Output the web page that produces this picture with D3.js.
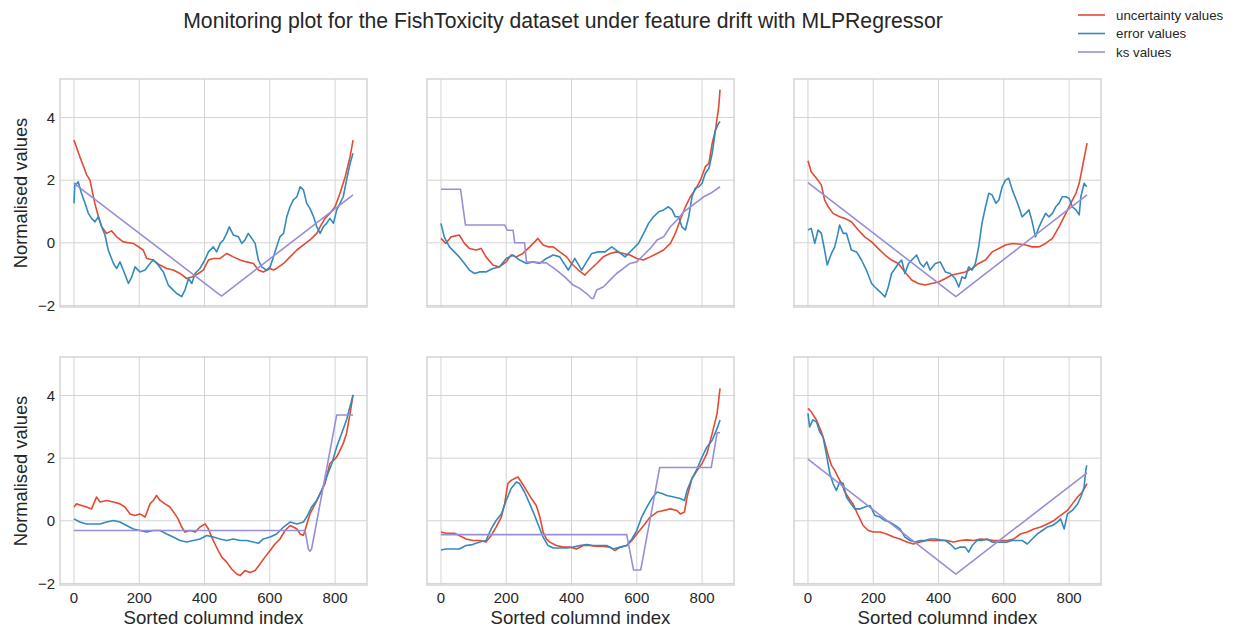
<!DOCTYPE html>
<html>
<head>
<meta charset="utf-8">
<script src="https://cdn.jsdelivr.net/npm/d3@7"></script>
<style>
body { margin: 0; background: #fff; }
text { font-family: "Liberation Sans", Arial, sans-serif; fill: #262626; }
</style>
</head>
<body>
<div id="chart"></div>
<script>
const titleText = "Monitoring plot for the FishToxicity dataset under feature drift with MLPRegressor";
const seriesNames = ["uncertainty values", "error values", "ks values"];
const seriesColors = ["#E24A33", "#348ABD", "#988ED5"];
const xTicks = [0, 200, 400, 600, 800];
const yTicks = [-2, 0, 2, 4];

// [sorted index, normalised value]
const unc1 = [[0,3.28],[18,2.75],[39,2.17],[49,2.0],[64,1.26],[75,0.83],[85,0.51],[100,0.3],[115,0.38],[131,0.19],[151,0.03],[182,-0.02],[212,-0.23],[223,-0.5],[243,-0.55],[263,-0.71],[284,-0.82],[304,-0.87],[325,-0.98],[345,-1.14],[361,-1.09],[381,-0.98],[396,-0.87],[412,-0.55],[427,-0.5],[448,-0.5],[468,-0.34],[488,-0.45],[509,-0.55],[529,-0.61],[550,-0.66],[565,-0.87],[580,-0.93],[601,-0.82],[611,-0.87],[621,-0.82],[642,-0.66],[662,-0.45],[683,-0.23],[703,-0.07],[723,0.09],[744,0.3],[754,0.51],[769,0.78],[784,0.94],[800,1.15],[815,1.58],[831,2.11],[846,2.75],[855,3.28]];
const err1 = [[0,1.26],[3,1.9],[6,1.85],[13,1.95],[23,1.58],[34,1.26],[44,0.94],[54,0.78],[64,0.67],[75,0.83],[85,0.51],[95,0.25],[105,-0.23],[121,-0.66],[131,-0.82],[141,-0.61],[151,-0.87],[167,-1.3],[177,-1.09],[187,-0.77],[202,-0.93],[218,-0.87],[233,-0.66],[243,-0.55],[258,-0.71],[274,-0.93],[289,-1.35],[304,-1.51],[315,-1.62],[330,-1.72],[340,-1.51],[351,-1.14],[361,-1.3],[371,-0.98],[386,-0.82],[401,-0.55],[412,-0.29],[427,-0.13],[437,-0.29],[448,-0.02],[458,0.09],[468,0.3],[476,0.51],[488,0.25],[504,0.19],[514,-0.02],[524,0.09],[534,0.3],[545,0.14],[555,-0.02],[565,-0.55],[575,-0.77],[590,-0.87],[601,-0.77],[611,-0.45],[621,-0.13],[631,0.19],[642,0.3],[652,0.83],[662,1.15],[672,1.37],[683,1.47],[693,1.79],[703,1.69],[713,1.26],[723,1.1],[734,0.83],[744,0.51],[754,0.3],[764,0.51],[774,0.62],[784,0.78],[795,0.62],[805,1.05],[815,1.26],[825,1.47],[835,2.0],[846,2.54],[855,2.86]];
const ks1 = [[0,1.9],[452,-1.7],[855,1.53]];

const unc2 = [[0,0.14],[15,-0.02],[31,0.19],[56,0.25],[72,-0.02],[87,-0.18],[108,-0.23],[123,-0.18],[138,-0.45],[159,-0.71],[179,-0.77],[200,-0.61],[215,-0.39],[231,-0.45],[251,-0.34],[272,-0.13],[287,0.03],[297,0.14],[313,-0.07],[328,-0.13],[344,-0.13],[364,-0.29],[385,-0.45],[400,-0.66],[421,-0.87],[441,-1.03],[456,-0.87],[477,-0.66],[497,-0.45],[518,-0.34],[538,-0.29],[559,-0.34],[579,-0.39],[600,-0.5],[620,-0.55],[641,-0.45],[662,-0.34],[682,-0.23],[703,-0.02],[718,0.3],[733,0.73],[749,1.15],[764,1.47],[779,1.69],[795,2.0],[810,2.43],[821,2.54],[831,3.18],[841,3.6],[851,4.35],[855,4.89]];
const err2 = [[0,0.62],[10,0.19],[26,-0.13],[41,-0.29],[56,-0.45],[72,-0.66],[87,-0.87],[103,-0.98],[118,-0.93],[138,-0.93],[159,-0.82],[179,-0.77],[200,-0.5],[221,-0.39],[241,-0.55],[262,-0.66],[282,-0.61],[303,-0.66],[323,-0.5],[344,-0.39],[364,-0.45],[390,-0.87],[410,-0.5],[431,-0.87],[446,-0.61],[462,-0.34],[482,-0.29],[503,-0.29],[523,-0.13],[544,-0.29],[564,-0.45],[585,-0.23],[605,-0.02],[621,0.3],[636,0.62],[651,0.83],[667,0.99],[682,1.05],[697,1.15],[708,1.05],[718,0.83],[728,0.83],[738,0.51],[749,0.41],[759,0.83],[769,1.47],[779,1.74],[790,1.79],[800,1.9],[810,2.22],[821,2.38],[831,2.86],[841,3.6],[851,3.82],[855,3.87]];
const ks2 = [[0,1.71],[60,1.71],[75,0.57],[195,0.57],[203,0.4],[221,0.4],[226,0.0],[256,0.0],[262,-0.61],[323,-0.64],[354,-0.87],[379,-1.09],[405,-1.35],[426,-1.46],[446,-1.62],[462,-1.78],[467,-1.78],[477,-1.51],[497,-1.41],[518,-1.19],[538,-0.98],[559,-0.82],[579,-0.66],[600,-0.61],[621,-0.39],[641,-0.18],[662,0.09],[682,0.19],[703,0.51],[723,0.73],[744,0.99],[764,1.15],[785,1.31],[805,1.47],[826,1.58],[855,1.79]];

const unc3 = [[0,2.62],[10,2.27],[26,2.06],[41,1.85],[51,1.37],[62,1.15],[77,0.94],[97,0.83],[113,0.78],[133,0.67],[154,0.41],[174,0.19],[195,0.03],[215,-0.18],[236,-0.39],[256,-0.55],[277,-0.66],[297,-0.93],[318,-1.19],[338,-1.3],[359,-1.35],[379,-1.3],[400,-1.25],[421,-1.14],[441,-1.03],[462,-0.98],[482,-0.93],[503,-0.82],[523,-0.66],[544,-0.55],[564,-0.29],[585,-0.18],[605,-0.07],[626,-0.02],[646,-0.04],[667,-0.07],[687,-0.13],[708,-0.13],[728,-0.02],[749,0.14],[769,0.51],[790,0.94],[805,1.26],[821,1.58],[831,1.9],[841,2.43],[855,3.18]];
const err3 = [[0,0.41],[10,0.46],[21,-0.02],[31,0.41],[41,0.3],[51,-0.23],[59,-0.71],[72,-0.34],[82,-0.13],[92,0.3],[97,0.57],[108,0.3],[118,0.3],[133,-0.23],[149,-0.29],[164,-0.55],[179,-0.87],[195,-1.3],[205,-1.41],[215,-1.51],[226,-1.62],[236,-1.73],[246,-1.41],[256,-0.98],[267,-0.82],[277,-0.66],[287,-0.55],[297,-0.98],[308,-0.66],[318,-0.55],[333,-0.39],[344,-0.66],[354,-0.77],[364,-0.61],[374,-0.87],[390,-0.66],[405,-0.61],[421,-0.93],[436,-0.98],[451,-1.14],[462,-1.41],[472,-1.09],[482,-1.14],[492,-0.77],[503,-0.87],[513,-0.66],[523,-0.13],[533,0.62],[544,1.15],[554,1.58],[564,1.53],[576,1.26],[585,1.37],[595,1.79],[605,2.0],[615,2.06],[626,1.69],[636,1.42],[646,1.15],[656,0.83],[667,0.94],[677,1.05],[687,0.67],[697,0.19],[708,0.51],[718,0.73],[728,0.94],[738,0.83],[749,0.94],[759,1.15],[769,1.26],[779,1.47],[790,1.47],[800,1.42],[810,1.15],[821,1.05],[831,0.89],[836,1.47],[846,1.9],[854,1.79]];
const ks3 = [[0,1.92],[453,-1.72],[855,1.53]];

const unc4 = [[0,0.44],[8,0.54],[23,0.49],[39,0.44],[54,0.38],[69,0.76],[80,0.6],[100,0.65],[121,0.6],[141,0.54],[156,0.44],[172,0.22],[187,0.17],[202,0.22],[218,0.12],[233,0.54],[243,0.65],[253,0.81],[264,0.65],[279,0.54],[294,0.44],[309,0.22],[319,0.06],[330,-0.2],[340,-0.36],[356,-0.31],[371,-0.36],[386,-0.2],[402,-0.1],[412,-0.26],[422,-0.52],[432,-0.74],[442,-0.95],[453,-1.16],[468,-1.32],[483,-1.54],[499,-1.7],[509,-1.75],[524,-1.59],[539,-1.65],[555,-1.59],[570,-1.38],[585,-1.16],[601,-0.95],[616,-0.74],[631,-0.58],[647,-0.31],[662,-0.15],[672,-0.2],[683,-0.26],[693,-0.42],[703,-0.47],[711,-0.2],[723,0.22],[739,0.54],[754,0.87],[769,1.19],[784,1.83],[795,1.93],[805,2.04],[815,2.25],[825,2.47],[835,2.79],[846,3.43],[855,4.02]];
const err4 = [[0,0.06],[18,-0.04],[39,-0.1],[59,-0.1],[80,-0.1],[100,-0.04],[121,0.01],[141,-0.04],[161,-0.15],[182,-0.26],[202,-0.31],[223,-0.36],[243,-0.31],[264,-0.31],[284,-0.42],[304,-0.52],[325,-0.63],[345,-0.68],[366,-0.63],[386,-0.58],[407,-0.47],[427,-0.52],[447,-0.58],[468,-0.63],[488,-0.58],[509,-0.63],[529,-0.63],[550,-0.68],[565,-0.72],[580,-0.58],[601,-0.52],[621,-0.42],[642,-0.2],[662,-0.04],[683,-0.1],[703,-0.04],[713,0.12],[728,0.44],[744,0.65],[759,0.97],[774,1.4],[790,1.83],[805,2.36],[820,2.79],[835,3.22],[855,4.02]];
const ks4 = [[0,-0.31],[708,-0.31],[718,-0.9],[723,-0.97],[728,-0.9],[805,3.38],[855,3.38]];

const unc5 = [[0,-0.36],[15,-0.4],[41,-0.4],[56,-0.47],[77,-0.58],[97,-0.63],[118,-0.63],[138,-0.68],[154,-0.47],[169,-0.2],[185,0.12],[195,0.54],[205,1.19],[215,1.29],[226,1.35],[236,1.4],[246,1.24],[262,0.97],[277,0.71],[292,0.49],[303,0.12],[313,-0.36],[323,-0.58],[333,-0.68],[354,-0.79],[374,-0.84],[395,-0.84],[415,-0.9],[436,-0.79],[456,-0.79],[477,-0.82],[497,-0.82],[518,-0.84],[533,-0.95],[549,-0.84],[569,-0.79],[585,-0.63],[600,-0.42],[621,-0.15],[641,0.12],[662,0.28],[682,0.33],[703,0.38],[723,0.33],[733,0.22],[746,0.28],[754,0.76],[769,1.35],[785,1.61],[800,1.83],[815,2.15],[831,2.79],[846,3.43],[855,4.23]];
const err5 = [[0,-0.93],[15,-0.9],[36,-0.9],[56,-0.9],[77,-0.79],[97,-0.76],[118,-0.68],[138,-0.63],[154,-0.26],[169,0.01],[185,0.22],[200,0.65],[215,1.03],[231,1.24],[241,1.19],[256,0.92],[272,0.54],[287,0.17],[303,-0.26],[313,-0.52],[328,-0.79],[344,-0.87],[364,-0.87],[385,-0.87],[405,-0.84],[426,-0.79],[446,-0.76],[467,-0.79],[487,-0.79],[508,-0.79],[528,-0.9],[549,-0.84],[569,-0.79],[585,-0.58],[600,-0.31],[615,0.12],[631,0.44],[646,0.71],[662,0.92],[677,0.87],[692,0.81],[713,0.76],[733,0.71],[746,0.65],[754,0.97],[769,1.35],[785,1.67],[800,2.04],[815,2.36],[831,2.57],[846,2.95],[855,3.22]];
const ks5 = [[0,-0.44],[569,-0.44],[590,-1.57],[612,-1.57],[670,1.7],[828,1.7],[846,2.81],[855,2.81]];

const unc6 = [[0,3.59],[10,3.48],[26,3.22],[41,2.84],[51,2.52],[62,2.09],[72,1.77],[82,1.61],[92,1.4],[103,1.19],[113,0.92],[123,0.76],[138,0.54],[154,0.17],[169,-0.15],[185,-0.31],[200,-0.36],[221,-0.36],[241,-0.42],[262,-0.52],[282,-0.58],[303,-0.68],[323,-0.74],[344,-0.68],[364,-0.63],[385,-0.63],[405,-0.63],[426,-0.63],[446,-0.68],[467,-0.63],[487,-0.61],[508,-0.63],[528,-0.58],[549,-0.6],[569,-0.63],[590,-0.63],[610,-0.63],[631,-0.58],[651,-0.42],[672,-0.36],[692,-0.26],[713,-0.2],[733,-0.1],[754,0.01],[774,0.17],[795,0.33],[810,0.54],[826,0.76],[841,0.92],[855,1.19]];
const err6 = [[0,3.43],[5,3.0],[15,3.22],[26,3.16],[36,2.84],[46,2.68],[56,2.15],[67,1.51],[77,1.19],[87,0.97],[97,1.24],[108,1.19],[118,0.76],[128,0.6],[144,0.38],[159,0.38],[174,0.44],[190,0.49],[205,0.17],[221,0.12],[236,0.01],[251,-0.04],[267,-0.15],[282,-0.26],[297,-0.52],[313,-0.63],[328,-0.68],[344,-0.63],[359,-0.63],[374,-0.58],[390,-0.58],[405,-0.61],[421,-0.63],[436,-0.74],[451,-0.9],[467,-0.84],[482,-0.84],[492,-1.0],[503,-0.79],[518,-0.63],[533,-0.63],[549,-0.58],[564,-0.68],[579,-0.68],[595,-0.68],[610,-0.68],[626,-0.63],[641,-0.63],[656,-0.63],[672,-0.74],[687,-0.58],[703,-0.42],[718,-0.31],[733,-0.2],[749,-0.15],[764,-0.04],[774,0.06],[785,-0.26],[795,0.22],[810,0.33],[826,0.54],[836,0.76],[846,1.08],[851,1.61],[854,1.77]];
const ks6 = [[0,1.97],[453,-1.7],[855,1.53]];

const panels = [
    [unc1, err1, ks1], [unc2, err2, ks2], [unc3, err3, ks3],
    [unc4, err4, ks4], [unc5, err5, ks5], [unc6, err6, ks6]
];

var width = 1238;
var height = 633;
var colLeft = [60, 427, 794];
var rowTop = [79, 357];
var panelW = 307;
var panelH = 228;

var svg = d3.select("#chart").append("svg")
    .attr("width", width)
    .attr("height", height)
    .style("background", "#fff");

svg.append("text")
    .attr("x", 563)
    .attr("y", 28)
    .attr("text-anchor", "middle")
    .style("font-size", "21.2px")
    .text(titleText);

var x = d3.scaleLinear().domain([-42.75, 897.75]).range([0, panelW]);
var y = d3.scaleLinear().domain([-2.05, 5.23]).range([panelH, 0]);
var line = d3.line().x(d => x(d[0])).y(d => y(d[1]));

panels.forEach(function (series, i) {
    var row = Math.floor(i / 3), col = i % 3;
    var g = svg.append("g")
        .attr("transform", "translate(" + colLeft[col] + "," + rowTop[row] + ")");

    // grid
    g.selectAll(".vgrid").data(xTicks).enter().append("line")
        .attr("x1", d => x(d)).attr("x2", d => x(d))
        .attr("y1", 0).attr("y2", panelH)
        .attr("stroke", "#d4d4d4").attr("stroke-width", 1);
    g.selectAll(".hgrid").data(yTicks).enter().append("line")
        .attr("y1", d => y(d)).attr("y2", d => y(d))
        .attr("x1", 0).attr("x2", panelW)
        .attr("stroke", "#d4d4d4").attr("stroke-width", 1);

    series.forEach(function (s, k) {
        g.append("path")
            .datum(s)
            .attr("d", line)
            .attr("fill", "none")
            .attr("stroke", seriesColors[k])
            .attr("stroke-width", 1.6)
            .attr("stroke-linejoin", "round");
    });

    g.append("rect")
        .attr("width", panelW).attr("height", panelH)
        .attr("fill", "none").attr("stroke", "#cccccc").attr("stroke-width", 1.25);

    if (col === 0) {
        g.selectAll(".ytick").data(yTicks).enter().append("text")
            .attr("x", -5).attr("y", d => y(d)).attr("dy", "0.35em")
            .attr("text-anchor", "end")
            .style("font-size", "15px")
            .text(d => d < 0 ? "\u2212" + Math.abs(d) : d);
        g.append("text")
            .attr("transform", "translate(-33," + (panelH / 2) + ") rotate(-90)")
            .attr("text-anchor", "middle")
            .style("font-size", "18.3px")
            .text("Normalised values");
    }
    if (row === 1) {
        g.selectAll(".xtick").data(xTicks).enter().append("text")
            .attr("x", d => x(d)).attr("y", panelH + 18)
            .attr("text-anchor", "middle")
            .style("font-size", "15px")
            .text(d => d);
        g.append("text")
            .attr("x", panelW / 2).attr("y", panelH + 39)
            .attr("text-anchor", "middle")
            .style("font-size", "18.6px")
            .text("Sorted columnd index");
    }
});

// legend
var legend = svg.append("g").attr("transform", "translate(1078,15)");
seriesNames.forEach(function (name, k) {
    legend.append("line")
        .attr("x1", 0).attr("x2", 27)
        .attr("y1", k * 18.5).attr("y2", k * 18.5)
        .attr("stroke", seriesColors[k]).attr("stroke-width", 1.6);
    legend.append("text")
        .attr("x", 38).attr("y", k * 18.5).attr("dy", "0.35em")
        .style("font-size", "13.3px")
        .text(name);
});
</script>
</body>
</html>
